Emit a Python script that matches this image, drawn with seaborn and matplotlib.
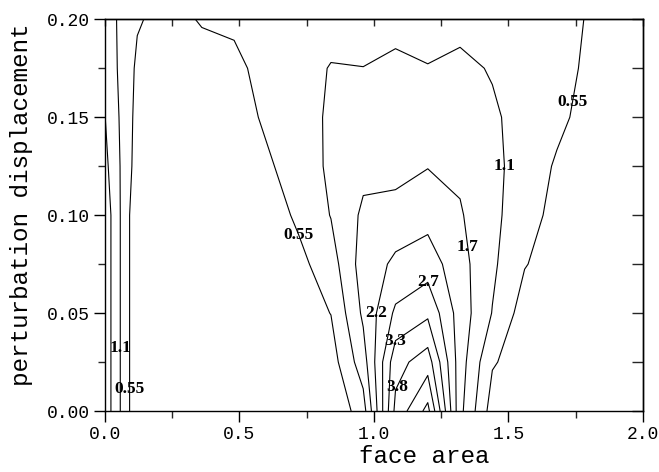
import matplotlib
matplotlib.use("Agg")
import numpy as np
import matplotlib.pyplot as plt
from matplotlib.ticker import MultipleLocator, FormatStrFormatter
import seaborn as sns

# grid (face area across, displacement up)
face_area = [0.00, 0.12, 0.24, 0.36, 0.48, 0.60, 0.72, 0.84, 0.96,
             1.08, 1.20, 1.32, 1.44, 1.56, 1.68, 1.80, 1.92, 2.04]
displacement = [0.000, 0.025, 0.050, 0.075, 0.100, 0.125, 0.150, 0.175, 0.200]

z_000 = [2.0, 0.1, 0.1, 0.1, 0.15, 0.2, 0.2, 0.05, 0.85, 4.0, 5.12, 1.8, 0.3, 0.2, 0.2, 0.2, 0.2, 0.2]
z_025 = [2.0, 0.1, 0.1, 0.1, 0.15, 0.2, 0.25, 0.3, 1.4, 3.65, 4.13, 1.9, 0.6, 0.3, 0.25, 0.2, 0.2, 0.2]
z_050 = [2.0, 0.1, 0.1, 0.1, 0.15, 0.2, 0.3, 0.56, 1.75, 2.85, 3.19, 1.95, 1.08, 0.29, 0.25, 0.25, 0.2, 0.2]
z_075 = [2.0, 0.1, 0.1, 0.1, 0.15, 0.25, 0.4, 0.85, 1.9, 2.3, 2.49, 1.85, 1.2, 0.58, 0.3, 0.25, 0.2, 0.2]
z_100 = [2.0, 0.1, 0.1, 0.12, 0.15, 0.25, 0.65, 1.12, 1.75, 1.9, 2.01, 1.7, 1.25, 0.75, 0.4, 0.3, 0.25, 0.2]
z_125 = [1.8, 0.3, 0.15, 0.12, 0.15, 0.45, 0.85, 1.18, 1.5, 1.42, 1.63, 1.55, 1.28, 0.8, 0.5, 0.35, 0.3, 0.25]
z_150 = [1.66, 0.37, 0.2, 0.2, 0.25, 0.65, 0.9, 1.17, 1.3, 1.3, 1.37, 1.4, 1.2, 0.85, 0.65, 0.4, 0.3, 0.25]
z_175 = [1.5, 0.45, 0.25, 0.3, 0.35, 0.83, 0.95, 1.12, 1.105, 1.2, 1.12, 1.25, 1.05, 0.9, 0.75, 0.45, 0.35, 0.3]
z_200 = [1.38, 0.6, 0.35, 0.6, 0.7, 0.85, 0.9, 0.95, 0.95, 0.95, 0.9, 0.9, 0.85, 0.85, 0.8, 0.5, 0.4, 0.3]

levels = [0.55, 1.1, 1.65, 2.2, 2.75, 3.3, 3.85, 4.4, 4.95]
level_text = ["0.55", "1.1", "1.7", "2.2", "2.7", "3.3", "3.8", "4.4", "4.9"]

# where the labels sit along their lines
label_points = [(0.057, 0.032), (0.0916, 0.011), (0.72, 0.09), (1.009, 0.05),
                (1.2, 0.0657), (1.08, 0.036), (1.08, 0.0125), (1.349, 0.084),
                (1.485, 0.125), (1.738, 0.158)]

sns.set_style("ticks")
mono = ["Liberation Mono", "DejaVu Sans Mono"]
plt.rcParams["font.family"] = mono

Z = np.array([z_000, z_025, z_050, z_075, z_100, z_125, z_150, z_175, z_200])

fig = plt.figure(figsize=(6.59, 4.72), dpi=100, facecolor="white")
ax = fig.add_axes([0.1593, 0.1292, 0.8164, 0.8299])

cs = ax.contour(face_area, displacement, Z, levels=levels, colors="black", linewidths=0.8)
texts = ax.clabel(cs, fmt=dict(zip(levels, level_text)), manual=label_points,
                  inline=False, fontsize=12, colors="black")
for t in texts:
    t.set_rotation(0)
    t.set_fontfamily(["Liberation Serif", "DejaVu Serif"])
    t.set_fontweight("bold")
    t.set_fontsize(12.5)

ax.set_xlim(0, 2)
ax.set_ylim(0, 0.2)
ax.xaxis.set_major_locator(MultipleLocator(0.5))
ax.xaxis.set_minor_locator(MultipleLocator(0.25))
ax.yaxis.set_major_locator(MultipleLocator(0.05))
ax.yaxis.set_minor_locator(MultipleLocator(0.025))
ax.xaxis.set_major_formatter(FormatStrFormatter("%.1f"))
ax.yaxis.set_major_formatter(FormatStrFormatter("%.2f"))
ax.tick_params(which="major", direction="out", length=8, width=1, labelsize=13,
               colors="black", pad=3)
ax.tick_params(which="minor", direction="out", length=5, width=1)

# top and right ticks point inward
top = ax.secondary_xaxis("top")
top.xaxis.set_major_locator(MultipleLocator(0.5))
top.xaxis.set_minor_locator(MultipleLocator(0.25))
top.tick_params(which="both", direction="in", length=5, width=1, labeltop=False)
right = ax.secondary_yaxis("right")
right.yaxis.set_major_locator(MultipleLocator(0.05))
right.yaxis.set_minor_locator(MultipleLocator(0.025))
right.tick_params(which="both", direction="in", length=8, width=1, labelright=False)

for sp in list(ax.spines.values()) + [top.spines["top"], right.spines["right"]]:
    sp.set_color("black")
    sp.set_linewidth(1.0)

ax.set_xlabel("face area", fontsize=17.5, color="black")
ax.set_ylabel("perturbation displacement", fontsize=17.5, color="black")
ax.xaxis.set_label_coords(0.593, -0.088)
ax.yaxis.set_label_coords(-0.134, 0.526)

fig.savefig("out.png", dpi=100, facecolor="white")
